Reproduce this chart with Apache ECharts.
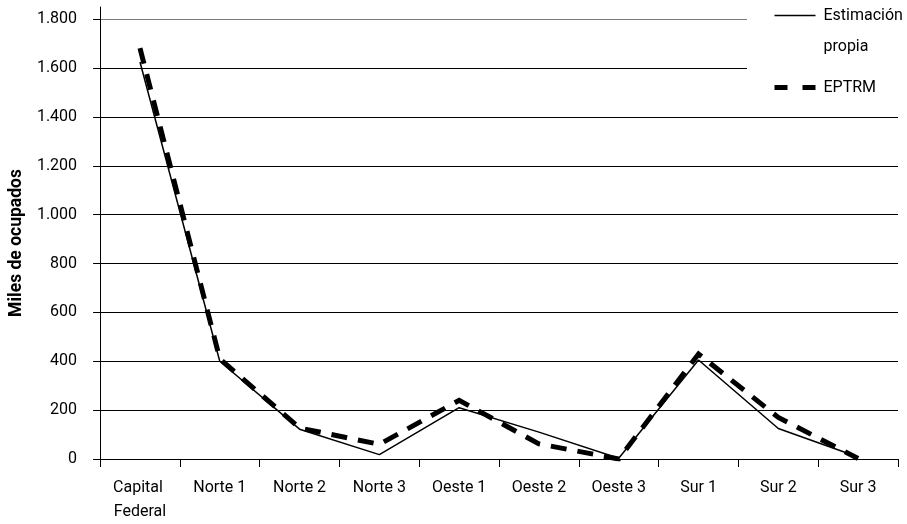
<!DOCTYPE html>
<html>
<head>
<meta charset="utf-8">
<script src="https://cdn.jsdelivr.net/npm/echarts@6/dist/echarts.min.js"></script>
<style>
html,body{margin:0;padding:0;background:#fff;}
#chart{width:907px;height:524px;}
</style>
</head>
<body>
<div id="chart"></div>
<script>
const categories = ['Capital Federal', 'Norte 1', 'Norte 2', 'Norte 3', 'Oeste 1', 'Oeste 2', 'Oeste 3', 'Sur 1', 'Sur 2', 'Sur 3'];
const estimacionPropia = [1625, 400, 122, 18, 210, 110, 3, 405, 125, 8];
const eptrm = [1682, 410, 127, 60, 240, 62, 0, 430, 170, 2];
const yTicks = [0, 200, 400, 600, 800, 1000, 1200, 1400, 1600, 1800];
const seriesNames = ['Estimación propia', 'EPTRM'];
const yAxisTitle = 'Miles de ocupados';

const FONT = "Roboto, 'Liberation Sans', sans-serif";
const fmtThousands = v => String(v).replace(/\B(?=(\d{3})+(?!\d))/g, '.');

const chart = echarts.init(document.getElementById('chart'), null, {renderer: 'canvas'});
chart.setOption({
  animation: false,
  backgroundColor: '#fff',
  grid: {left: 97, right: 9, top: 7, bottom: 61, containLabel: false},
  legend: {
    orient: 'vertical',
    left: 747,
    top: -31,
    padding: [0, 9, 10, 25],
    itemWidth: 41,
    itemHeight: 14,
    itemGap: 10,
    backgroundColor: '#fff',
    textStyle: {fontFamily: FONT, fontSize: 16, lineHeight: 31, color: '#000', padding: [0, 0, 0, 3]},
    // first item: blank line on top so that "Estimación" sits level with its line icon
    formatter: name => name === seriesNames[0] ? ' \nEstimación\npropia' : name,
    data: [
      {name: seriesNames[0],
       lineStyle: {width: 1.5, type: 'solid', color: '#000'},
       itemStyle: {color: 'rgba(0,0,0,0)', opacity: 0, borderWidth: 0}},
      {name: seriesNames[1],
       lineStyle: {width: 5, type: [13, 15], color: '#000'},
       itemStyle: {color: 'rgba(0,0,0,0)', opacity: 0, borderWidth: 0}}
    ]
  },
  xAxis: {
    type: 'category',
    data: categories,
    boundaryGap: true,
    axisLine: {show: true, lineStyle: {color: '#000', width: 1}},
    axisTick: {show: true, length: 8, lineStyle: {color: '#000', width: 1}},
    axisLabel: {
      fontFamily: FONT, fontSize: 16, lineHeight: 24, color: '#000', margin: 17,
      width: 75, overflow: 'break', interval: 0
    },
    splitLine: {show: false}
  },
  yAxis: {
    type: 'value',
    min: 0,
    max: 1850,
    interval: 200,
    name: yAxisTitle,
    nameLocation: 'middle',
    nameGap: 68,
    nameRotate: 90,
    nameTextStyle: {fontFamily: FONT, fontSize: 17.5, fontWeight: 'bold', color: '#000', padding: [0, 20, 0, 0]},
    axisLine: {show: true, lineStyle: {color: '#000', width: 1}},
    axisTick: {show: true, length: 7, customValues: yTicks, lineStyle: {color: '#000', width: 1}},
    axisLabel: {
      fontFamily: FONT, fontSize: 16, color: '#000', margin: 23,
      customValues: yTicks,
      formatter: v => fmtThousands(v)
    },
    splitLine: {
      show: true,
      lineStyle: {color: ['#000', '#000', '#000', '#000', '#000', '#000', '#000', '#000', '#000', '#7a7a7a'], width: 1}
    }
  },
  series: [
    {
      name: seriesNames[0],
      type: 'line',
      data: estimacionPropia,
      symbol: 'none',
      lineStyle: {color: '#000', width: 1.5, type: 'solid'},
      itemStyle: {color: '#000'},
      z: 2
    },
    {
      name: seriesNames[1],
      type: 'line',
      data: eptrm,
      symbol: 'none',
      lineStyle: {color: '#000', width: 5, type: [16, 11], cap: 'butt', join: 'miter'},
      itemStyle: {color: '#000'},
      z: 3
    }
  ]
});
</script>
</body>
</html>
